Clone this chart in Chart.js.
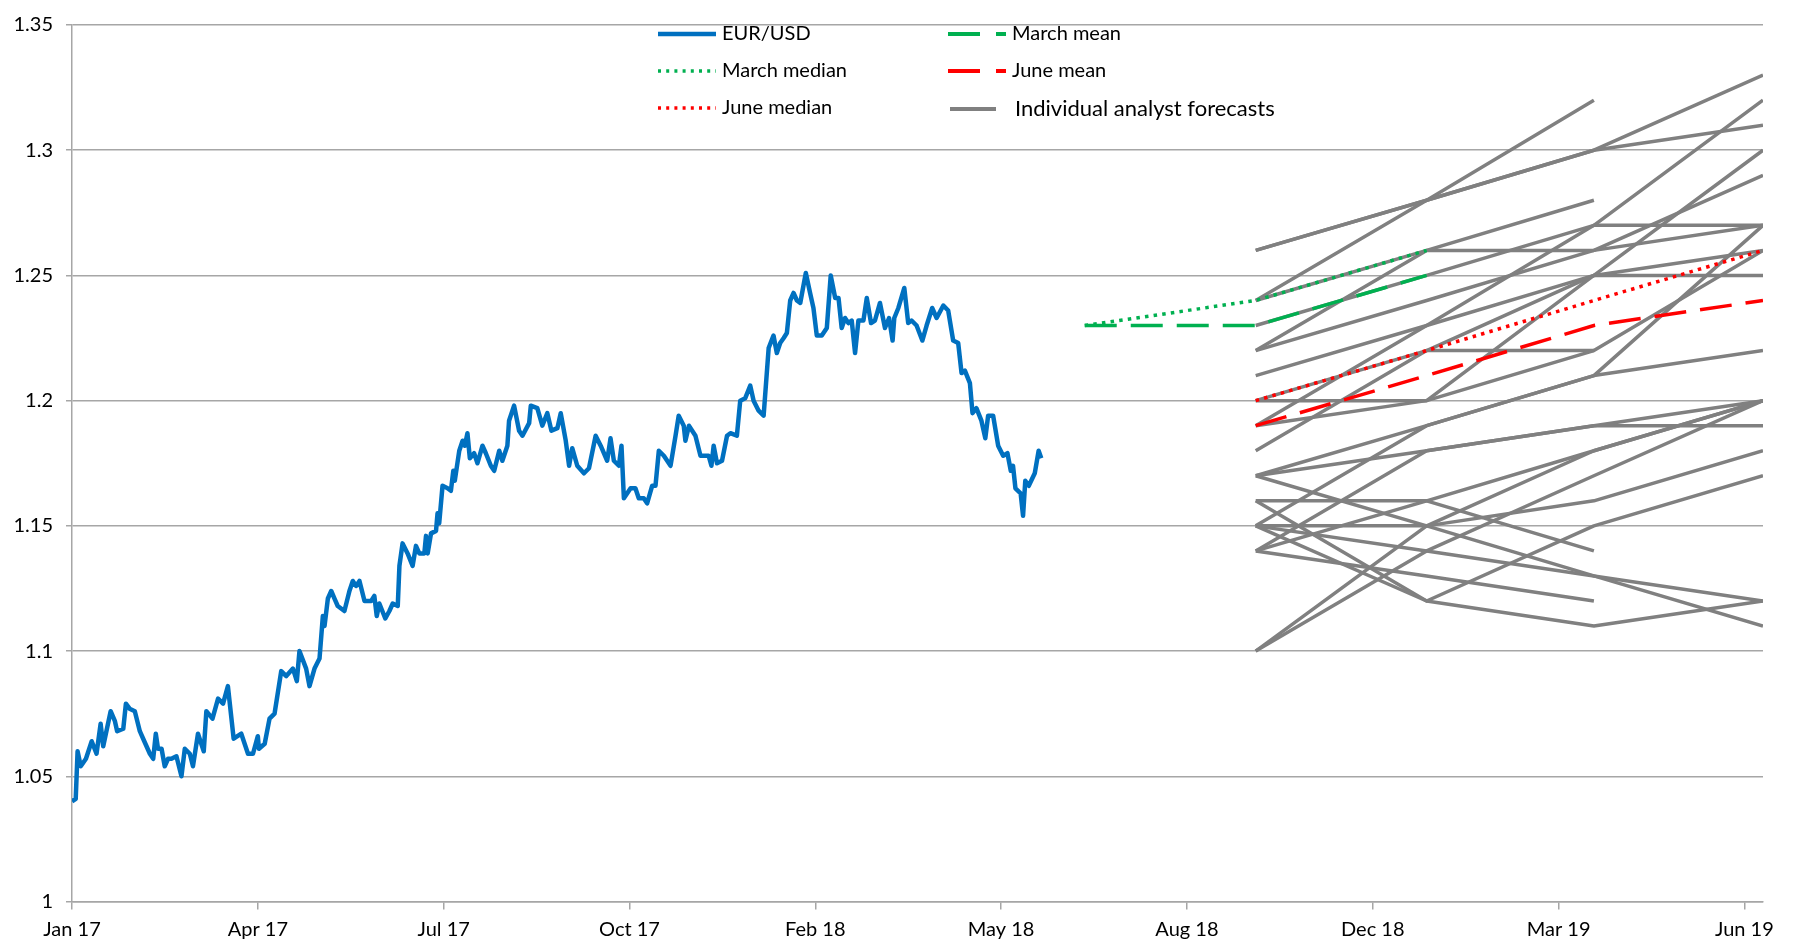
<!DOCTYPE html>
<html>
<head>
<meta charset="utf-8">
<script src="https://cdn.jsdelivr.net/npm/chart.js@4.4.1/dist/chart.umd.min.js"></script>
<style>
  html, body { margin: 0; padding: 0; background: #fff; }
  #wrap { width: 1795px; height: 945px; }
</style>
</head>
<body>
<div id="wrap"><canvas id="fx" width="1795" height="945"></canvas></div>
<script>
// x axis = days since 1 Jan 2017, a tick every 100 days
var tickLabels = ['Jan 17', 'Apr 17', 'Jul 17', 'Oct 17', 'Feb 18', 'May 18', 'Aug 18', 'Dec 18', 'Mar 19', 'Jun 19'];

// EUR/USD spot (day, rate)
var fxDay = [0, 2, 3, 4.7, 7.5, 10.6, 13.2, 15.4, 16.8, 20.8, 23.1, 24.3, 27.6, 29, 31, 33.8, 36.5, 38.3, 41.9, 43.7,
  45.1, 46.3, 48.2, 49.9, 51.7, 53.5, 56.2, 58.9, 60.7, 63.4, 65.1, 67.8, 70.9, 72.3, 75.6, 78.6, 81.3, 83.9, 87, 91.1,
  94.7, 97.4, 100, 100.6, 103.7, 106.3, 109, 112.6, 115.3, 118.9, 121, 122.4, 126, 127.8, 130.5, 133.2, 135, 135.9, 137.7, 139.5,
  141.2, 143, 146.6, 149.3, 151.1, 152.9, 154.7, 157.4, 161, 162.7, 164, 165.4, 168.6, 170.8, 172.6, 175.3, 176.2, 177.9, 180.6, 183.3,
  185.1, 186.9, 189.6, 190.5, 191.4, 193.2, 195.9, 196.7, 197.6, 199.4, 202.1, 203.9, 205.2, 206, 208.4, 210.2, 211.4, 212.8, 214.1, 216.4,
  218.2, 220.9, 222.7, 225.4, 227.2, 229.9, 231.6, 234.3, 235.2, 237.9, 240.6, 242.4, 246, 246.9, 250.4, 253.1, 255.8, 258, 261.2, 263,
  265.7, 267.5, 269.2, 271.9, 275.5, 278.2, 281.8, 284.5, 288, 289.8, 291.6, 294.3, 295.7, 297, 300.6, 303.2, 305, 307.7, 309.5, 312.2,
  314, 315.8, 318.5, 322.1, 324.8, 326.5, 329.2, 330.1, 332, 335.5, 338.2, 342.6, 344.1, 345.3, 347.1, 349.8, 352.5, 354.3, 357.8, 359.6,
  362.3, 365, 366.8, 369.5, 372.2, 374.9, 377.5, 379.3, 381.1, 383, 384.7, 386.5, 388.3, 390.1, 391.9, 394.9, 397.2, 399, 400.8, 403.5,
  406.2, 408.3, 410.7, 412.5, 414.2, 416, 417.8, 419.6, 421.4, 423.2, 425.9, 427.7, 430, 432.1, 434.8, 437.5, 439.7, 441.6, 442.5, 444.7,
  447.9, 450, 451.8, 454.5, 457.6, 459.9, 462.9, 465.3, 468.9, 471.5, 474.2, 476.9, 478.7, 480.5, 483.2, 484.6, 486.7, 489.4, 491.5, 493,
  495.7, 498.4, 501.1, 503.4, 505.2, 506.4, 507.7, 510.5, 511.8, 513, 514.9, 518.1, 520.2, 521.6];
var fxRate = [1.040, 1.041, 1.060, 1.054, 1.057, 1.064, 1.059, 1.071, 1.062, 1.076, 1.072, 1.068, 1.069, 1.079, 1.077, 1.076, 1.068, 1.065, 1.059, 1.057,
  1.067, 1.061, 1.061, 1.054, 1.057, 1.057, 1.058, 1.050, 1.061, 1.059, 1.054, 1.067, 1.060, 1.076, 1.073, 1.081, 1.079, 1.086, 1.065, 1.067,
  1.059, 1.059, 1.066, 1.061, 1.063, 1.073, 1.075, 1.092, 1.090, 1.093, 1.088, 1.100, 1.093, 1.086, 1.093, 1.097, 1.114, 1.110, 1.121, 1.124,
  1.121, 1.118, 1.116, 1.124, 1.128, 1.126, 1.128, 1.120, 1.120, 1.122, 1.114, 1.119, 1.113, 1.116, 1.119, 1.118, 1.134, 1.143, 1.139, 1.134,
  1.142, 1.139, 1.139, 1.146, 1.139, 1.147, 1.148, 1.155, 1.151, 1.166, 1.165, 1.164, 1.172, 1.168, 1.180, 1.184, 1.182, 1.187, 1.177, 1.179,
  1.175, 1.182, 1.179, 1.174, 1.172, 1.180, 1.176, 1.182, 1.192, 1.198, 1.188, 1.186, 1.191, 1.198, 1.197, 1.190, 1.195, 1.188, 1.189, 1.195,
  1.184, 1.174, 1.181, 1.174, 1.171, 1.173, 1.186, 1.182, 1.176, 1.185, 1.176, 1.174, 1.182, 1.161, 1.165, 1.165, 1.161, 1.161, 1.159, 1.166,
  1.166, 1.180, 1.178, 1.174, 1.186, 1.194, 1.190, 1.184, 1.190, 1.186, 1.178, 1.178, 1.174, 1.182, 1.175, 1.176, 1.186, 1.187, 1.186, 1.200,
  1.201, 1.206, 1.200, 1.196, 1.194, 1.221, 1.226, 1.219, 1.223, 1.225, 1.227, 1.240, 1.243, 1.240, 1.239, 1.251, 1.243, 1.237, 1.226, 1.226,
  1.229, 1.250, 1.241, 1.241, 1.229, 1.233, 1.231, 1.232, 1.219, 1.232, 1.232, 1.241, 1.231, 1.232, 1.239, 1.229, 1.233, 1.224, 1.233, 1.237,
  1.245, 1.231, 1.232, 1.230, 1.224, 1.230, 1.237, 1.233, 1.238, 1.236, 1.224, 1.223, 1.211, 1.212, 1.207, 1.195, 1.197, 1.192, 1.185, 1.194,
  1.194, 1.182, 1.178, 1.179, 1.172, 1.174, 1.165, 1.163, 1.154, 1.168, 1.166, 1.171, 1.180, 1.177];

// forecast dates: Q2 18, Q3 18, Q4 18, Q1 19, Q2 19
var qDates = ['2018-06-30', '2018-09-30', '2018-12-31', '2019-03-31', '2019-06-30'];

var marchMean = [1.23, 1.23, 1.25];
var marchMedian = [1.23, 1.24, 1.26];
var juneMean = [1.19, 1.21, 1.23, 1.24];
var juneMedian = [1.20, 1.22, 1.24, 1.26];

// individual analysts, Q3 18 .. Q2 19 (null = no forecast)
var analysts = [
  [1.26, 1.28, 1.30, 1.33],
  [1.24, 1.28, 1.32, null],
  [1.26, 1.28, 1.30, 1.31],
  [1.19, 1.23, 1.27, 1.32],
  [1.20, 1.20, 1.25, 1.30],
  [1.22, 1.24, 1.26, 1.29],
  [1.23, 1.25, 1.27, 1.27],
  [1.22, 1.26, 1.26, 1.27],
  [1.24, 1.26, 1.28, null],
  [1.21, 1.23, 1.25, 1.26],
  [1.18, 1.22, 1.22, null],
  [1.20, 1.22, 1.25, 1.25],
  [1.17, 1.19, 1.21, 1.27],
  [1.19, 1.20, 1.22, 1.26],
  [1.16, 1.16, 1.18, 1.20],
  [1.15, 1.19, 1.21, 1.22],
  [1.17, 1.18, 1.19, 1.20],
  [1.14, 1.18, 1.19, 1.19],
  [1.10, 1.15, 1.18, 1.20],
  [1.15, 1.15, 1.16, 1.18],
  [1.16, 1.12, 1.15, 1.17],
  [1.17, 1.15, 1.13, 1.12],
  [1.15, 1.12, 1.11, 1.12],
  [1.14, 1.16, 1.14, null],
  [1.15, 1.14, 1.13, 1.11],
  [1.10, 1.14, 1.17, 1.20],
  [1.14, 1.13, 1.12, null]
];

var day0 = Date.UTC(2017, 0, 1);
function toDay(s) {
  var p = s.split('-');
  return (Date.UTC(+p[0], +p[1] - 1, +p[2]) - day0) / 86400000;
}
var qDay = qDates.map(toDay);

function pts(days, vals) {
  var out = [];
  for (var i = 0; i < vals.length; i++) {
    if (vals[i] !== null) out.push({x: days[i], y: vals[i]});
  }
  return out;
}

var BLUE = '#0070C0', GREEN = '#00B050', RED = '#FF0000', GREY = '#808080';
var LONG_DASH = [32, 14], DOTS = [3.5, 5.2];
var FONT = 'Lato, "Liberation Sans", sans-serif';

var datasets = [
  {label: 'EUR/USD', data: pts(fxDay, fxRate), borderColor: BLUE, borderWidth: 4.5},
  {label: 'March mean', data: pts(qDay.slice(0, 3), marchMean), borderColor: GREEN, borderWidth: 3.5, borderDash: LONG_DASH},
  {label: 'March median', data: pts(qDay.slice(0, 3), marchMedian), borderColor: GREEN, borderWidth: 3.5, borderDash: DOTS},
  {label: 'June mean', data: pts(qDay.slice(1), juneMean), borderColor: RED, borderWidth: 3.5, borderDash: LONG_DASH},
  {label: 'June median', data: pts(qDay.slice(1), juneMedian), borderColor: RED, borderWidth: 3.5, borderDash: DOTS}
];
analysts.forEach(function (a, i) {
  datasets.push({label: 'Analyst ' + (i + 1), data: pts(qDay.slice(1), a), borderColor: GREY, borderWidth: 3.5});
});

// legend sits inside the plot, 2 columns x 3 rows
var legendItems = [
  {text: 'EUR/USD', x: 658, y: 34, w: 58, color: BLUE, dash: [], lw: 4.5},
  {text: 'March median', x: 658, y: 71, w: 58, color: GREEN, dash: [3, 5.2], lw: 3.5},
  {text: 'June median', x: 658, y: 108, w: 58, color: RED, dash: [3, 5.2], lw: 3.5},
  {text: 'March mean', x: 948, y: 34, w: 58, color: GREEN, dash: [32, 16], lw: 4},
  {text: 'June mean', x: 948, y: 71, w: 58, color: RED, dash: [32, 16], lw: 4},
  {text: 'Individual analyst forecasts', x: 950, y: 109, w: 46, color: GREY, dash: [], lw: 4, gap: 19, size: 22}
];

var legendPlugin = {
  id: 'boxLegend',
  afterDraw: function (chart) {
    var ctx = chart.ctx;
    ctx.save();
    legendItems.forEach(function (it) {
      ctx.beginPath();
      ctx.setLineDash(it.dash);
      ctx.lineWidth = it.lw;
      ctx.strokeStyle = it.color;
      ctx.moveTo(it.x, it.y);
      ctx.lineTo(it.x + it.w, it.y);
      ctx.stroke();
      ctx.setLineDash([]);
      ctx.fillStyle = '#000';
      ctx.font = (it.size || 20) + 'px ' + FONT;
      ctx.textBaseline = 'middle';
      ctx.textAlign = 'left';
      ctx.fillText(it.text, it.x + it.w + (it.gap || 6), it.y);
    });
    ctx.restore();
  }
};

new Chart(document.getElementById('fx'), {
  type: 'line',
  data: {datasets: datasets},
  options: {
    responsive: false,
    animation: false,
    devicePixelRatio: 1,
    layout: {padding: {left: 0, right: 32, top: 19, bottom: 0}},
    elements: {
      point: {radius: 0, hoverRadius: 0},
      line: {tension: 0, borderCapStyle: 'butt', borderJoinStyle: 'round', fill: false}
    },
    plugins: {legend: {display: false}, tooltip: {enabled: false}},
    scales: {
      x: {
        type: 'linear', min: 0, max: 910,
        afterDataLimits: function (s) { s.min = 0; s.max = 910; },
        afterBuildTicks: function (s) {
          s.ticks = tickLabels.map(function (t, i) { return {value: i * 100}; });
        },
        afterFit: function (s) { s.height = 43.5; },
        border: {color: '#A6A6A6', width: 1.5},
        grid: {drawOnChartArea: false, drawTicks: true, tickLength: 8, color: '#A6A6A6', lineWidth: 1.5},
        ticks: {
          stepSize: 100, autoSkip: false, maxRotation: 0, padding: 8,
          color: '#000', font: {family: FONT, size: 20},
          callback: function (v) { return tickLabels[Math.round(v / 100)]; }
        }
      },
      y: {
        min: 1, max: 1.35,
        afterFit: function (s) { s.width = 72; },
        border: {color: '#A6A6A6', width: 1.5},
        grid: {color: '#A6A6A6', lineWidth: 1.5, tickLength: 6},
        ticks: {
          stepSize: 0.05, padding: 13,
          color: '#000', font: {family: FONT, size: 20},
          callback: function (v) { return String(+v.toFixed(2)); }
        }
      }
    }
  },
  plugins: [legendPlugin]
});
</script>
</body>
</html>
